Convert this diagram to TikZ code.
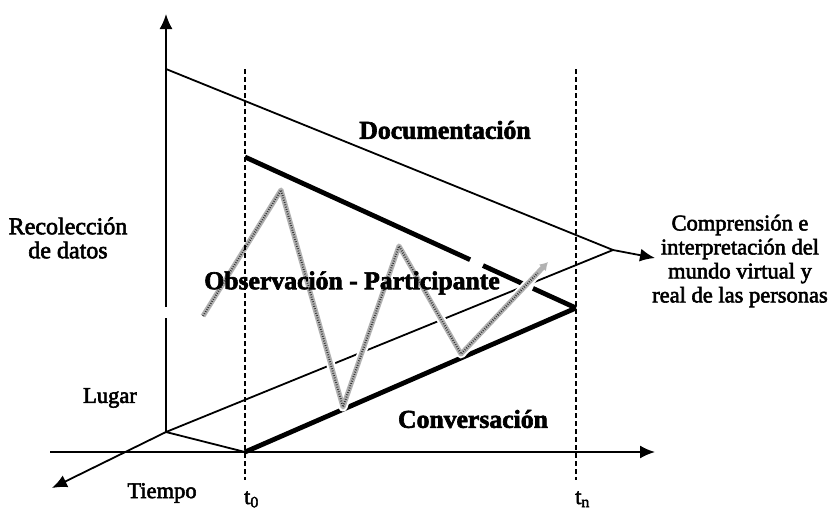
\documentclass[tikz,border=0pt]{standalone}
\usepackage{fontspec}
\setmainfont{Liberation Serif}
\newfontfamily\heavyserif[FakeBold=2.5]{Liberation Serif}
\newfontfamily\heavybold[FakeBold=2.5]{Liberation Serif Bold}
\usetikzlibrary{arrows.meta,calc}
\begin{document}
\begin{tikzpicture}[x=1pt,y=-1pt,
  thinline/.style={line width=1.8pt},
  thickline/.style={line width=4.8pt},
  tline/.style={line width=2pt, dash pattern=on 5pt off 3pt},
  axisarrow/.style={-{Latex[length=15pt,width=13pt]}},
  biglabel/.style={font=\fontsize{25.7}{28}\selectfont\heavybold, inner sep=0pt},
  sidelabel/.style={font=\fontsize{22.5}{24}\selectfont\heavyserif, align=center, inner sep=0pt},
  zigunder/.style={white, line width=9pt, line join=round, line cap=round},
  zigbase/.style={gray!60, line width=5pt, line join=round},
  zigdots/.style={black!80, line width=2pt, line join=round, dash pattern=on 0.8pt off 1.6pt}
]
\useasboundingbox (0,0) rectangle (832,512);
% key points
\coordinate (O) at (166,432);
\coordinate (Vtop) at (166,14);
\coordinate (Vga) at (166,318);
\coordinate (Vgb) at (166,307);
\coordinate (Dstart) at (166,69);
\coordinate (Apex) at (613,250);
\coordinate (Out) at (655,258);
\coordinate (Hl) at (50,452);
\coordinate (Hr) at (655,452);
\coordinate (Zl) at (52,488);
\coordinate (T0top) at (245,69);
\coordinate (T0bot) at (245,480);
\coordinate (Tntop) at (576,69);
\coordinate (Tnbot) at (576,480);
\coordinate (A) at (245,157);
\coordinate (B) at (576,308);
\coordinate (C) at (245,452);
\coordinate (Z1) at (203,316);
\coordinate (Z2) at (281,190);
\coordinate (Z3) at (343,407);
\coordinate (Z4) at (399,246);
\coordinate (Z5) at (461,354);
\coordinate (Z6) at (548,262);
% axes
\draw[thinline] (O) -- (Vga);
\draw[thinline, axisarrow] (Vgb) -- (Vtop);
\draw[thinline, axisarrow] (Hl) -- (Hr);
\draw[thinline, axisarrow] (O) -- (Zl);
% cone
\draw[thinline, axisarrow] (Dstart) -- (Apex) -- (Out);
\draw[thinline] (O) -- (Apex);
\draw[thinline] (O) -- (C);
% thick wedge
\draw[thickline] (A) -- ($(A)!0.680!(B)$);
\draw[thickline] ($(A)!0.719!(B)$) -- ($(A)!0.840!(B)$);
\draw[thickline] ($(A)!0.870!(B)$) -- (B);
\draw[thickline] (C) -- (B);
% zigzag
\draw[zigunder] (Z1) -- (Z2) -- (Z3) -- (Z4) -- (Z5) -- ($(Z5)!0.93!(Z6)$);
\draw[zigbase, -{Latex[length=8pt,width=10pt]}] (Z1) -- (Z2) -- (Z3) -- (Z4) -- (Z5) -- (Z6);
\draw[zigdots] (Z1) -- (Z2) -- (Z3) -- (Z4) -- (Z5) -- ($(Z5)!0.88!(Z6)$);
% time lines
\draw[tline] (T0top) -- (T0bot);
\draw[tline] (Tntop) -- (Tnbot);
% labels
\node[biglabel] (doc) at (445,130) {Documentación};
\node[biglabel] (obs) at (352,283) {Observación - Participante};
\node[biglabel] (conv) at (473,419) {Conversación};
\node[sidelabel, font=\fontsize{24}{24}\selectfont\heavyserif] (rec) at (68,238) {Recolección\\de datos};
\node[sidelabel] (comp) at (740,261) {Comprensión e\\interpretación del\\mundo virtual y\\real de las personas};
\node[sidelabel] (lugar) at (110,398) {Lugar};
\node[sidelabel] (tiempo) at (162,493) {Tiempo};
\node[sidelabel, anchor=base west] (t0) at (244,504) {t\textsubscript{0}};
\node[sidelabel, anchor=base west] (tn) at (575,504) {t\textsubscript{n}};
\end{tikzpicture}
\end{document}
